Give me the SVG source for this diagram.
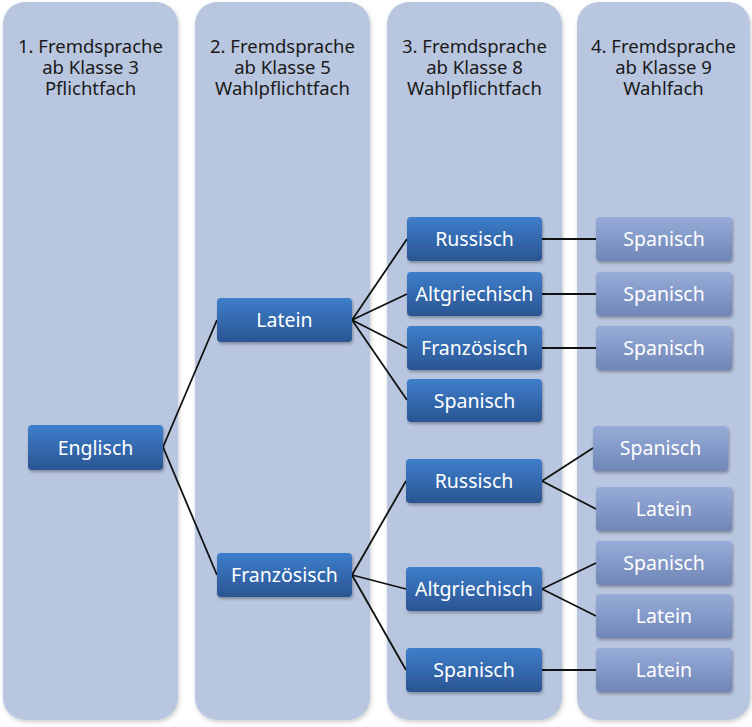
<svg xmlns="http://www.w3.org/2000/svg" width="752" height="727" viewBox="0 0 752 727">
<defs>
<linearGradient id="gDark" x1="0" y1="0" x2="0" y2="1">
<stop offset="0" stop-color="#3E7ECB"/>
<stop offset="1" stop-color="#2A5592"/>
</linearGradient>
<linearGradient id="gLight" x1="0" y1="0" x2="0" y2="1">
<stop offset="0" stop-color="#97ACD8"/>
<stop offset="1" stop-color="#6F86B7"/>
</linearGradient>
<filter id="sh" x="-10%" y="-10%" width="130%" height="140%">
<feDropShadow dx="1" dy="2" stdDeviation="1.5" flood-color="#000" flood-opacity="0.3"/>
</filter>
<filter id="psh" x="-5%" y="-5%" width="110%" height="110%">
<feDropShadow dx="1" dy="2" stdDeviation="2" flood-color="#000" flood-opacity="0.2"/>
</filter>
</defs>
<style>
.panel{fill:#B9C6DF;filter:url(#psh)}
.hd{font-family:"Noto Sans",sans-serif;font-size:18.5px;fill:#1a1a1a;text-anchor:middle}
.dk rect{fill:url(#gDark);filter:url(#sh)}
.lt rect{fill:url(#gLight);filter:url(#sh)}
.nd text{font-family:"Noto Sans",sans-serif;font-size:19.5px;fill:#fff;text-anchor:middle}
.con line{stroke:#111;stroke-width:1.8}
</style>
<rect width="752" height="727" fill="#fff"/>
<g id="panels">
<rect class="panel" x="3" y="2" width="175" height="718" rx="22"/>
<rect class="panel" x="195" y="2" width="175" height="718" rx="22"/>
<rect class="panel" x="387" y="2" width="175" height="718" rx="22"/>
<rect class="panel" x="577" y="2" width="173" height="718" rx="22"/>
</g>
<g id="headers">
<text class="hd" x="90.5" y="53">1. Fremdsprache</text>
<text class="hd" x="90.5" y="74">ab Klasse 3</text>
<text class="hd" x="90.5" y="95">Pflichtfach</text>
<text class="hd" x="282.5" y="53">2. Fremdsprache</text>
<text class="hd" x="282.5" y="74">ab Klasse 5</text>
<text class="hd" x="282.5" y="95">Wahlpflichtfach</text>
<text class="hd" x="474.5" y="53">3. Fremdsprache</text>
<text class="hd" x="474.5" y="74">ab Klasse 8</text>
<text class="hd" x="474.5" y="95">Wahlpflichtfach</text>
<text class="hd" x="663.5" y="53">4. Fremdsprache</text>
<text class="hd" x="663.5" y="74">ab Klasse 9</text>
<text class="hd" x="663.5" y="95">Wahlfach</text>
</g>
<g id="connectors" class="con">
<line x1="163" y1="447" x2="217" y2="320"/>
<line x1="163" y1="447" x2="217" y2="575"/>
<line x1="352" y1="320" x2="407" y2="239"/>
<line x1="352" y1="320" x2="407" y2="294"/>
<line x1="352" y1="320" x2="407" y2="348"/>
<line x1="352" y1="320" x2="407" y2="400"/>
<line x1="352" y1="575" x2="406" y2="481"/>
<line x1="352" y1="575" x2="406" y2="589"/>
<line x1="352" y1="575" x2="406" y2="670"/>
<line x1="542" y1="239" x2="596" y2="239"/>
<line x1="542" y1="294" x2="596" y2="294"/>
<line x1="542" y1="348" x2="596" y2="348"/>
<line x1="542" y1="481" x2="593" y2="448"/>
<line x1="542" y1="481" x2="596" y2="509"/>
<line x1="542" y1="589" x2="596" y2="563"/>
<line x1="542" y1="589" x2="596" y2="616"/>
<line x1="542" y1="670" x2="596" y2="670"/>
</g>
<g id="n-englisch" class="nd dk"><rect x="28" y="425" width="135" height="45" rx="4"/><text x="95.5" y="454.5">Englisch</text></g>
<g id="n-latein2" class="nd dk"><rect x="217" y="298" width="135" height="44" rx="4"/><text x="284.5" y="327">Latein</text></g>
<g id="n-franz2" class="nd dk"><rect x="217" y="553" width="135" height="44" rx="4"/><text x="284.5" y="582">Französisch</text></g>
<g id="n-russ3a" class="nd dk"><rect x="407" y="217" width="135" height="44" rx="4"/><text x="474.5" y="246">Russisch</text></g>
<g id="n-alt3a" class="nd dk"><rect x="407" y="272" width="135" height="44" rx="4"/><text x="474.5" y="301">Altgriechisch</text></g>
<g id="n-franz3a" class="nd dk"><rect x="407" y="326" width="135" height="44" rx="4"/><text x="474.5" y="355">Französisch</text></g>
<g id="n-span3a" class="nd dk"><rect x="407" y="379" width="135" height="43" rx="4"/><text x="474.5" y="407.5">Spanisch</text></g>
<g id="n-russ3b" class="nd dk"><rect x="406" y="459" width="136" height="44" rx="4"/><text x="474" y="488">Russisch</text></g>
<g id="n-alt3b" class="nd dk"><rect x="406" y="567" width="136" height="44" rx="4"/><text x="474" y="596">Altgriechisch</text></g>
<g id="n-span3b" class="nd dk"><rect x="406" y="648" width="136" height="44" rx="4"/><text x="474" y="677">Spanisch</text></g>
<g id="n-span4a" class="nd lt"><rect x="596" y="217" width="136" height="44" rx="4"/><text x="664" y="246">Spanisch</text></g>
<g id="n-span4b" class="nd lt"><rect x="596" y="272" width="136" height="44" rx="4"/><text x="664" y="301">Spanisch</text></g>
<g id="n-span4c" class="nd lt"><rect x="596" y="326" width="136" height="44" rx="4"/><text x="664" y="355">Spanisch</text></g>
<g id="n-span4d" class="nd lt"><rect x="593" y="426" width="135" height="45" rx="4"/><text x="660.5" y="455">Spanisch</text></g>
<g id="n-lat4a" class="nd lt"><rect x="596" y="487" width="136" height="44" rx="4"/><text x="664" y="516">Latein</text></g>
<g id="n-span4e" class="nd lt"><rect x="596" y="541" width="136" height="44" rx="4"/><text x="664" y="570">Spanisch</text></g>
<g id="n-lat4b" class="nd lt"><rect x="596" y="594" width="136" height="44" rx="4"/><text x="664" y="623">Latein</text></g>
<g id="n-lat4c" class="nd lt"><rect x="596" y="648" width="136" height="44" rx="4"/><text x="664" y="677">Latein</text></g>
</svg>
